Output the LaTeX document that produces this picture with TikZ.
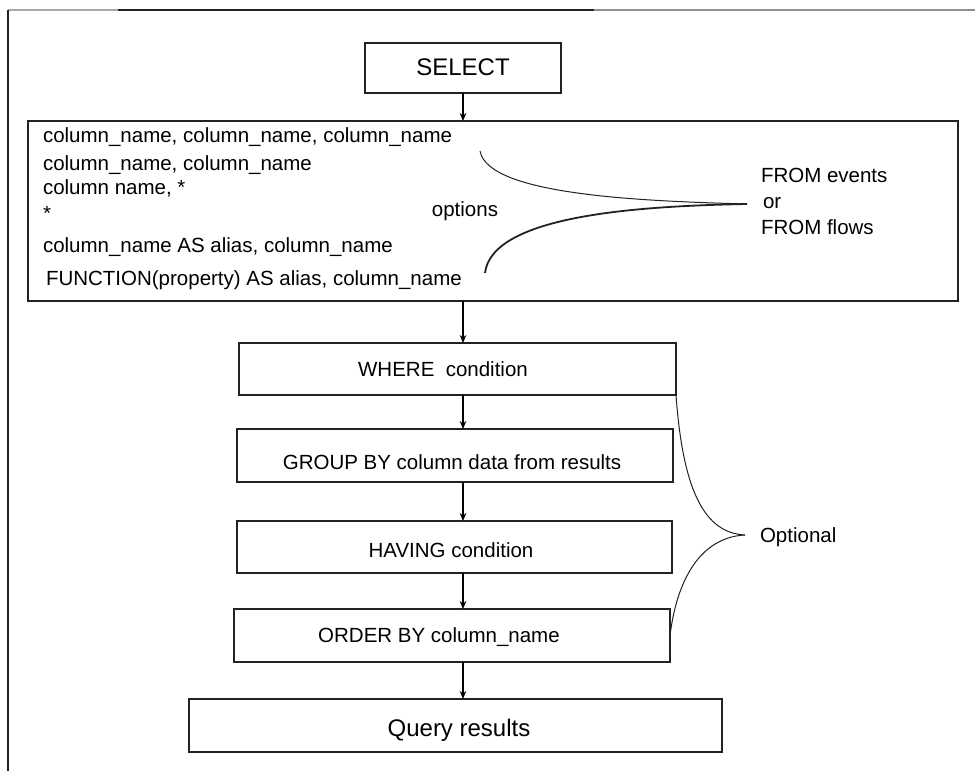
\documentclass[tikz,border=0pt]{standalone}
\usepackage{fontspec}
\setmainfont{Liberation Sans}
\usetikzlibrary{arrows.meta}
\definecolor{ink}{HTML}{222222}
\definecolor{lightframe}{HTML}{A8A8A8}
\definecolor{midframe}{HTML}{909090}
\begin{document}
\begin{tikzpicture}[x=1pt,y=-1pt,
  box/.style={draw=ink, line width=1.5pt, inner sep=0pt, outer sep=0pt, rectangle},
  txt/.style={inner sep=0pt, outer sep=0pt, font=\fontsize{20.5}{24}\selectfont},
  bigtxt/.style={inner sep=0pt, outer sep=0pt, font=\fontsize{24}{28}\selectfont},
  arr/.style={draw=black, line width=1.3pt, -{Stealth[length=8pt,width=6.5pt]}},
  brace/.style={draw=ink, line width=1pt}]
\useasboundingbox (0,0) rectangle (975,771);
% frame
\coordinate (f0) at (8,10);
\coordinate (f1) at (118,10);
\coordinate (f2) at (594,10);
\coordinate (f3) at (975,10);
\coordinate (f4) at (8,771);
\draw[lightframe, line width=2pt] (f0) -- (f1);
\draw[ink, line width=2pt] (f1) -- (f2);
\draw[midframe, line width=2pt] (f2) -- (f3);
\draw[ink, line width=2pt] (f0) -- (f4);

% boxes
\node[box, minimum width=196pt, minimum height=50pt] (select) at (463,68) {};
\node[box, minimum width=930pt, minimum height=180pt] (opts) at (493,211) {};
\node[box, minimum width=437pt, minimum height=52pt] (where) at (457.5,369) {};
\node[box, minimum width=436pt, minimum height=53pt] (group) at (455,455.5) {};
\node[box, minimum width=435pt, minimum height=52pt] (having) at (454.5,547) {};
\node[box, minimum width=436pt, minimum height=53pt] (order) at (452,635.5) {};
\node[box, minimum width=533pt, minimum height=53pt] (query) at (455.5,725.5) {};

% box texts
\node[bigtxt, anchor=base] (selecttxt) at (463,75.5) {SELECT};
\node[txt, anchor=base] (wheretxt) at (443,376.5) {WHERE\ \ condition};
\node[txt, anchor=base] (grouptxt) at (452,469.5) {GROUP BY column data from results};
\node[txt, anchor=base] (havingtxt) at (451,557.5) {HAVING condition};
\node[txt, anchor=base] (ordertxt) at (439,642.5) {ORDER BY column\_name};
\node[bigtxt, anchor=base] (querytxt) at (459,736) {Query results};

% option lines
\node[txt, anchor=base west] (l1) at (43,142) {column\_name, column\_name, column\_name};
\node[txt, anchor=base west] (l2) at (43,170) {column\_name, column\_name};
\node[txt, anchor=base west] (l3) at (43,194) {column name, *};
\node[txt, anchor=base west] (l4) at (43,220) {*};
\node[txt, anchor=base west] (l5) at (43,252) {column\_name AS alias, column\_name};
\node[txt, anchor=base west] (l6) at (46,285) {FUNCTION(property) AS alias, column\_name};
\node[txt, anchor=base] (optionstxt) at (465,216) {options};
\node[txt, anchor=base west] (from1) at (761,182) {FROM events};
\node[txt, anchor=base west] (from2) at (763,208) {or};
\node[txt, anchor=base west] (from3) at (761,234) {FROM flows};
\node[txt, anchor=base west] (optional) at (760,542) {Optional};

% FROM brace
\coordinate (fa) at (480,151);
\coordinate (fb) at (485,273);
\coordinate (ftip) at (747,204);
\draw[brace, line width=1pt] (fa) .. controls (488,195) and (640,201) .. (ftip);
\draw[brace, line width=1.8pt] (fb) .. controls (492,215) and (640,206) .. (ftip);

% Optional brace
\coordinate (oa) at (where.south east);
\coordinate (ob) at (order.east);
\coordinate (otip) at (745,535);
\draw[brace] (oa) .. controls (683,492) and (705,533) .. (otip);
\draw[brace] (ob) .. controls (678,572) and (705,537) .. (otip);

% arrows
\coordinate (spine) at (463,0);
\draw[arr] (select.south) -- (select.south |- opts.north);
\draw[arr] (opts.south -| spine) -- (where.north -| spine);
\draw[arr] (where.south -| spine) -- (group.north -| spine);
\draw[arr] (group.south -| spine) -- (having.north -| spine);
\draw[arr] (having.south -| spine) -- (order.north -| spine);
\draw[arr] (order.south -| spine) -- (query.north -| spine);
\end{tikzpicture}
\end{document}
